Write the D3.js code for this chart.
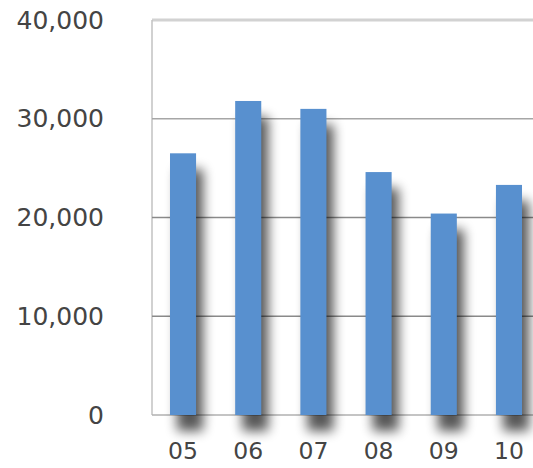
<!DOCTYPE html>
<html>
<head>
<meta charset="utf-8">
<script src="https://cdn.jsdelivr.net/npm/d3@7"></script>
<style>
  html, body { margin: 0; padding: 0; background: #ffffff; }
  svg { display: block; }
  .tick text { font-family: "DejaVu Sans", sans-serif; fill: #444444; }
</style>
</head>
<body>
<div id="chart"></div>
<script>
// Yearly totals, two-digit year labels
const years = ["05", "06", "07", "08", "09", "10"];
const totals = [26500, 31800, 31000, 24600, 20400, 23300];
const yTicks = [0, 10000, 20000, 30000, 40000];

const width = 533, height = 468;
const plot = { left: 152, top: 20, right: 560, bottom: 415 };

const svg = d3.select("#chart").append("svg")
  .attr("width", width)
  .attr("height", height);

const defs = svg.append("defs");
const shadow = defs.append("filter")
  .attr("id", "barShadow")
  .attr("x", "-80%").attr("y", "-20%")
  .attr("width", "300%").attr("height", "150%");
shadow.append("feGaussianBlur")
  .attr("in", "SourceAlpha")
  .attr("stdDeviation", 6);

const x = d3.scaleBand()
  .domain(years)
  .range([plot.left, 540])
  .paddingInner(0.6)
  .paddingOuter(0.276);

const y = d3.scaleLinear()
  .domain([0, 40000])
  .range([plot.bottom, plot.top]);

// plot frame
svg.append("rect")
  .attr("x", plot.left)
  .attr("y", plot.top)
  .attr("width", plot.right - plot.left)
  .attr("height", plot.bottom - plot.top)
  .attr("fill", "#ffffff");

svg.append("line")
  .attr("x1", plot.left).attr("x2", plot.right)
  .attr("y1", y(40000)).attr("y2", y(40000))
  .attr("stroke", "#d2d2d2").attr("stroke-width", 3);

svg.append("line")
  .attr("x1", plot.left).attr("x2", plot.left)
  .attr("y1", plot.top).attr("y2", plot.bottom)
  .attr("stroke", "#c2c2c2").attr("stroke-width", 1.5);

// horizontal gridlines
svg.append("g")
  .selectAll("line")
  .data(yTicks.filter(v => v > 0 && v < 40000))
  .join("line")
  .attr("x1", plot.left).attr("x2", plot.right)
  .attr("y1", d => y(d)).attr("y2", d => y(d))
  .attr("stroke", d => d === 30000 ? "#a6a6a6" : "#8a8a8a")
  .attr("stroke-width", 1.6);

svg.append("line")
  .attr("x1", plot.left).attr("x2", plot.right)
  .attr("y1", y(0)).attr("y2", y(0))
  .attr("stroke", "#b0b0b0").attr("stroke-width", 1.5);

// bar shadows
svg.append("g")
  .attr("filter", "url(#barShadow)")
  .attr("opacity", 0.66)
  .selectAll("rect")
  .data(totals)
  .join("rect")
  .attr("x", (d, i) => x(years[i]) + 7)
  .attr("y", d => y(d) + 16)
  .attr("width", x.bandwidth())
  .attr("height", d => y(0) - y(d))
  .attr("fill", "#000");

// bars
svg.append("g")
  .selectAll("rect")
  .data(totals)
  .join("rect")
  .attr("x", (d, i) => x(years[i]))
  .attr("y", d => y(d))
  .attr("width", x.bandwidth())
  .attr("height", d => y(0) - y(d))
  .attr("fill", "#5890cf");

// axes
const yAxis = svg.append("g")
  .attr("transform", `translate(${plot.left},0)`)
  .call(d3.axisLeft(y).tickValues(yTicks).tickFormat(d3.format(",")).tickSize(0).tickPadding(48));
yAxis.select(".domain").remove();
yAxis.selectAll("text").style("font-size", "25px");

const xAxis = svg.append("g")
  .attr("transform", `translate(0,${plot.bottom})`)
  .call(d3.axisBottom(x).tickSize(0).tickPadding(27));
xAxis.select(".domain").remove();
xAxis.selectAll("text").style("font-size", "23.5px");
</script>
</body>
</html>
